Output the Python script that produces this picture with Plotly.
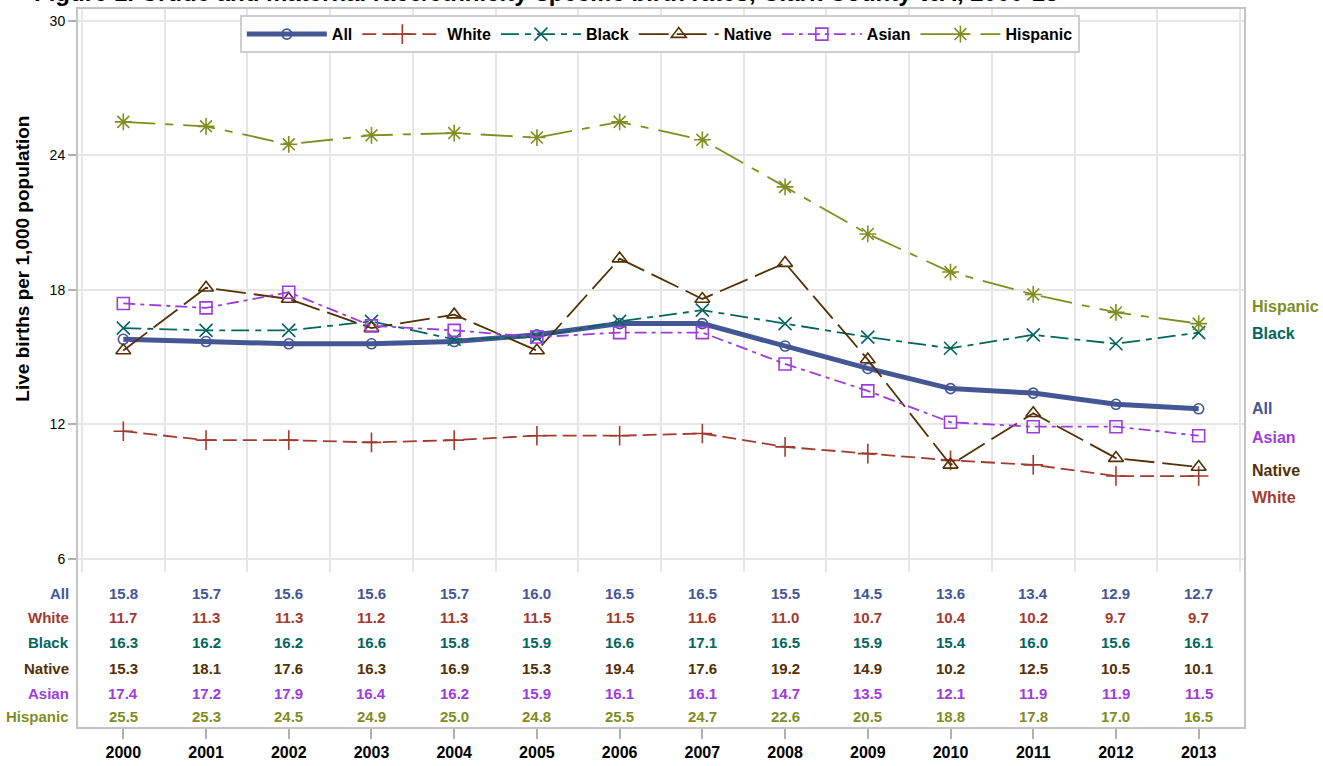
import plotly.graph_objects as go

years = [2000, 2001, 2002, 2003, 2004, 2005, 2006, 2007, 2008, 2009, 2010, 2011, 2012, 2013]
series_names = ["All", "White", "Black", "Native", "Asian", "Hispanic"]
all_rate = [15.8, 15.7, 15.6, 15.6, 15.7, 16.0, 16.5, 16.5, 15.5, 14.5, 13.6, 13.4, 12.9, 12.7]
white_rate = [11.7, 11.3, 11.3, 11.2, 11.3, 11.5, 11.5, 11.6, 11.0, 10.7, 10.4, 10.2, 9.7, 9.7]
black_rate = [16.3, 16.2, 16.2, 16.6, 15.8, 15.9, 16.6, 17.1, 16.5, 15.9, 15.4, 16.0, 15.6, 16.1]
native_rate = [15.3, 18.1, 17.6, 16.3, 16.9, 15.3, 19.4, 17.6, 19.2, 14.9, 10.2, 12.5, 10.5, 10.1]
asian_rate = [17.4, 17.2, 17.9, 16.4, 16.2, 15.9, 16.1, 16.1, 14.7, 13.5, 12.1, 11.9, 11.9, 11.5]
hispanic_rate = [25.5, 25.3, 24.5, 24.9, 25.0, 24.8, 25.5, 24.7, 22.6, 20.5, 18.8, 17.8, 17.0, 16.5]
y_ticks = [6, 12, 18, 24, 30]
title_text = "Figure 1. Crude and maternal race/ethnicity-specific birth rates, Clark County WA, 2000-13"
y_title = "Live births per 1,000 population"

values = [all_rate, white_rate, black_rate, native_rate, asian_rate, hispanic_rate]
colors = ["#445694", "#A23A2E", "#01665E", "#543005", "#9D3CDB", "#7F8E1F"]
dashes = ["solid", "14px,6px", "18px,6px,6px,6px", "30px,8px", "12px,5px,4px,5px", "32px,10px,8px,10px"]
symbols = ["circle-open", "cross-thin-open", "x-thin-open", "triangle-up-open", "square-open", "asterisk-open"]
msizes = [10, 14, 13, 13, 12, 14]
lwidths = [5, 1.8, 1.8, 1.8, 1.8, 1.8]

FONT = "Liberation Sans, Arial, sans-serif"

fig = go.Figure()
for name, vals, c, d, s, ms, lw in zip(series_names, values, colors, dashes, symbols, msizes, lwidths):
    fig.add_trace(go.Scatter(
        x=years, y=vals, name=name, mode="lines+markers",
        line=dict(color=c, width=lw, dash=d),
        marker=dict(symbol=s, size=ms, color=c, line=dict(color=c, width=1.6)),
    ))

# dummy trace for the bottom year axis
fig.add_trace(go.Scatter(x=years, y=[None] * len(years), xaxis="x2", yaxis="y",
                         showlegend=False, hoverinfo="skip"))

xr = [1999.44, 2013.56]
half_years = [y - 0.5 for y in years] + [years[-1] + 0.5]

# table rows (paper coordinates)
row_y = [0.1875, 0.1528, 0.1181, 0.0833, 0.0486, 0.0153]
annotations = []
for name, vals, c, ry in zip(series_names, values, colors, row_y):
    annotations.append(dict(text=name, xref="paper", yref="paper", x=-0.005, y=ry,
                            xanchor="right", yanchor="middle", showarrow=False,
                            font=dict(family=FONT, size=15, color=c, weight="bold")))
    for yr, v in zip(years, vals):
        annotations.append(dict(text=f"{v:.1f}", xref="x", yref="paper", x=yr, y=ry,
                                xanchor="center", yanchor="middle", showarrow=False,
                                font=dict(family=FONT, size=15, color=c, weight="bold")))

# end-of-curve labels
label_shift = {"All": 0, "White": -21, "Black": -1, "Native": -3, "Asian": -2, "Hispanic": 17}
for name, vals, c in zip(series_names, values, colors):
    annotations.append(dict(text=name, xref="paper", yref="y", x=1, y=vals[-1],
                            xanchor="left", yanchor="middle", xshift=5, yshift=label_shift[name],
                            showarrow=False,
                            font=dict(family=FONT, size=16, color=c, weight="bold")))

# y axis title
annotations.append(dict(text=y_title, xref="paper", yref="paper", x=-0.047, y=0.652,
                        xanchor="center", yanchor="middle", textangle=-90, showarrow=False,
                        font=dict(family=FONT, size=19, color="#000000", weight="bold")))
# title, mostly cut off at the top edge as in the reference
annotations.append(dict(text=title_text, xref="paper", yref="paper", x=-0.0385, y=1.0,
                        xanchor="left", yanchor="bottom", showarrow=False,
                        font=dict(family=FONT, size=24, color="#000000", weight="bold")))

fig.update_layout(
    width=1323, height=766,
    margin=dict(l=77, r=78, t=8, b=38, autoexpand=False),
    paper_bgcolor="white", plot_bgcolor="white",
    showlegend=True,
    legend=dict(orientation="h", x=0.499, y=0.990, xanchor="center", yanchor="top",
                bordercolor="#cfcfcf", borderwidth=2, bgcolor="white",
                itemwidth=80,
                font=dict(family=FONT, size=16, color="#000000", weight="bold")),
    xaxis=dict(range=xr, domain=[0, 1], anchor="y", tickvals=half_years, showticklabels=False,
               ticks="", showgrid=True, gridcolor="#e6e6e6", gridwidth=1.5,
               showline=False, zeroline=False),
    xaxis2=dict(range=xr, overlaying="x", anchor="free", position=0, side="bottom",
                tickvals=years, ticktext=[str(y) for y in years], ticks="outside", ticklen=10,
                tickcolor="#b0b0b0", tickwidth=1.5, showgrid=False, showline=False, zeroline=False,
                tickfont=dict(family=FONT, size=16, color="#000000", weight="bold")),
    yaxis=dict(range=[5.42, 30.58], domain=[0.2167, 1], tickvals=y_ticks,
               ticks="outside", ticklen=8, tickcolor="#b0b0b0", tickwidth=1.5,
               showgrid=True, gridcolor="#e6e6e6", gridwidth=1.5, showline=False, zeroline=False,
               tickfont=dict(family=FONT, size=14, color="#000000")),
    annotations=annotations,
    shapes=[dict(type="rect", xref="paper", yref="paper", x0=0, x1=1, y0=0, y1=1,
                 line=dict(color="#c4c4c4", width=2), layer="above")],
)

# remove the default 8px page margin so the figure sits at the window's top-left corner
fig.write_html("out.html", config={"displayModeBar": False},
               post_script="document.body.style.margin='0px';")
